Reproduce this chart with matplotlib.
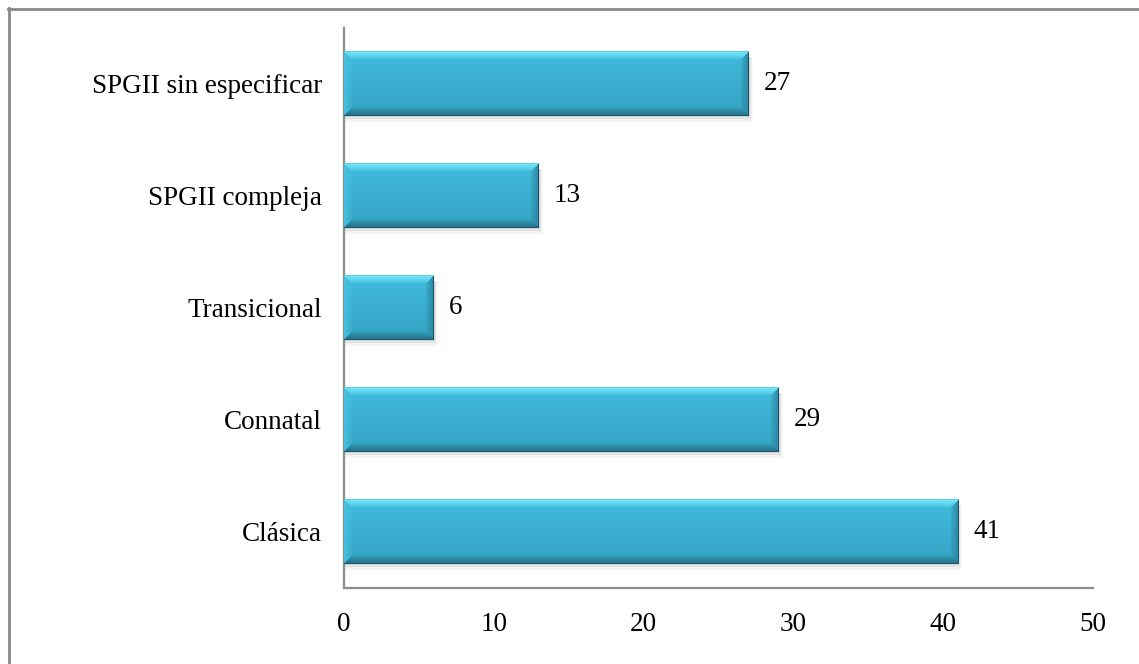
import numpy as np
import matplotlib
matplotlib.use("Agg")
import matplotlib.pyplot as plt
from matplotlib.lines import Line2D
from matplotlib.colors import to_rgb

# Counts per clinical form
categories = ["Clásica", "Connatal", "Transicional", "SPGII compleja", "SPGII sin especificar"]
values = [41, 29, 6, 13, 27]
x_ticks = [0, 10, 20, 30, 40, 50]

plt.rcParams["font.family"] = ["Liberation Serif", "DejaVu Serif"]
FS = 19.5

fig = plt.figure(figsize=(11.39, 6.64), dpi=100)
ax = fig.add_axes([0.302, 0.1145, 0.6578, 0.8435])

ypos = np.arange(len(categories))
bars = ax.barh(ypos, values, height=0.58, color="#3BB2D4", zorder=2)

ax.set_xlim(0, 50)
ax.set_ylim(-0.5, len(categories) - 0.5)
ax.set_xticks(x_ticks)
ax.set_xticklabels([str(t) for t in x_ticks], fontsize=FS)
ax.set_yticks(ypos)
ax.set_yticklabels(categories, fontsize=FS)
ax.tick_params(axis="both", length=0)
ax.tick_params(axis="x", pad=17)
ax.tick_params(axis="y", pad=16)

for side in ("top", "right"):
    ax.spines[side].set_visible(False)
for side in ("left", "bottom"):
    ax.spines[side].set_color("#8C8C8C")
    ax.spines[side].set_linewidth(1.6)

fig.canvas.draw()


def bevel_image(w, h, b=8):
    top = np.array(to_rgb("#40BCDD"))
    bot = np.array(to_rgb("#35A2C2"))
    t = np.linspace(0, 1, h)[:, None, None]
    img = np.broadcast_to(top * (1 - t) + bot * t, (h, w, 3)).copy()
    ii, jj = np.mgrid[0:h, 0:w]
    d = np.stack([ii, h - 1 - ii, jj, w - 1 - jj])
    m = d.min(axis=0)
    side = d.argmin(axis=0)
    edge_cols = [to_rgb("#78E8FA"), to_rgb("#24728A"), to_rgb("#45C0DE"), to_rgb("#2A88A3")]
    for k, c in enumerate(edge_cols):
        mask = (m < b) & (side == k)
        f = (1 - m[mask] / b)[:, None] * 0.85 + 0.15
        img[mask] = img[mask] * (1 - f) + np.array(c) * f
    img[-1:, :] = to_rgb("#1C5263")
    img[:, -1:] = to_rgb("#1C5263")
    img[:1, :] = to_rgb("#5ACDE8")
    return np.clip(img, 0, 1)


inv = ax.transData.inverted()
for rect, v in zip(bars, values):
    x0, y0, w, h = rect.get_x(), rect.get_y(), rect.get_width(), rect.get_height()
    (px0, py0), (px1, py1) = ax.transData.transform([(x0, y0), (x0 + w, y0 + h)])
    wpx = max(int(round(px1 - px0)), 4)
    hpx = max(int(round(py1 - py0)), 4)
    # soft drop shadow beneath the bar
    for k, a in enumerate([0.07, 0.05, 0.035, 0.02]):
        (sx0, sy0) = inv.transform((px0 + 1, py0 - 1 - 2 * k))
        (sx1, sy1) = inv.transform((px1 + 1 + k, py1 - 6))
        ax.fill_between([sx0, sx1], sy0, sy1, color="black", alpha=a, lw=0, zorder=1.5)
    ax.imshow(bevel_image(wpx, hpx), extent=(x0, x0 + w, y0, y0 + h), aspect="auto",
              interpolation="bilinear", origin="upper", zorder=3)
    ax.annotate(str(v), xy=(x0 + w, y0 + h / 2), xytext=(11, 0), textcoords="offset points",
                ha="left", va="center", fontsize=FS, color="black")

ax.set_xlim(0, 50)
ax.set_ylim(-0.5, len(categories) - 0.5)

# frame lines along the top and left of the figure
fig.add_artist(Line2D([8 / 1139, 1], [1 - 8.5 / 664, 1 - 8.5 / 664], transform=fig.transFigure,
                      color="#8A8A8A", lw=2))
fig.add_artist(Line2D([8.5 / 1139, 8.5 / 1139], [0, 1 - 8 / 664], transform=fig.transFigure,
                      color="#8A8A8A", lw=2))

fig.savefig("out.png", dpi=100, facecolor="white")
